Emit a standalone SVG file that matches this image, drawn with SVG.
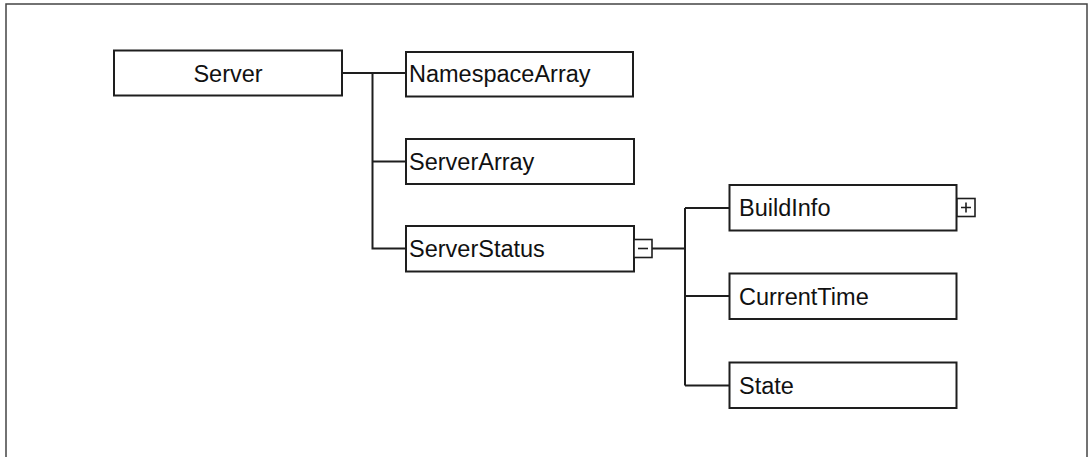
<svg xmlns="http://www.w3.org/2000/svg" width="1088" height="457" viewBox="0 0 1088 457">
  <style>
    .box { fill: #ffffff; stroke: #1e1e1e; stroke-width: 2; }
    .tog { fill: #ffffff; stroke: #1e1e1e; stroke-width: 1.6; }
    .sign { stroke: #1e1e1e; stroke-width: 1.6; fill: none; }
    .lbl { font-family: "Liberation Sans", Arial, sans-serif; font-size: 23.5px; fill: #111111; }
    .conn { stroke: #1e1e1e; stroke-width: 2; fill: none; }
  </style>

  <!-- frame -->
  <rect x="6" y="4" width="1081" height="470" fill="#ffffff" stroke="#444444" stroke-width="1.5"/>

  <!-- tree connectors -->
  <g id="connectors">
    <path class="conn" d="M342,73 H406 M372.5,73 V248.5 H406 M372.5,161.5 H406"/>
    <path class="conn" d="M652,248.5 H685 M685,208 V385.5 M685,208 H729 M685,296 H729 M685,385.5 H729"/>
  </g>

  <g id="node-server">
    <rect class="box" x="114" y="50.5" width="228" height="45"/>
    <text class="lbl" x="228" y="81.5" text-anchor="middle">Server</text>
  </g>

  <g id="node-namespacearray">
    <rect class="box" x="406" y="52" width="227" height="44.5"/>
    <text class="lbl" x="409" y="82">NamespaceArray</text>
  </g>

  <g id="node-serverarray">
    <rect class="box" x="406" y="139" width="228" height="45"/>
    <text class="lbl" x="409" y="170">ServerArray</text>
  </g>

  <g id="node-serverstatus">
    <rect class="box" x="406" y="226" width="228" height="45.5"/>
    <text class="lbl" x="409" y="257">ServerStatus</text>
    <rect class="tog" x="634" y="239.5" width="18" height="18"/>
    <path class="sign" d="M638,248.5 H648"/>
  </g>

  <g id="node-buildinfo">
    <rect class="box" x="729.5" y="185" width="227" height="45.5"/>
    <text class="lbl" x="739" y="216">BuildInfo</text>
    <rect class="tog" x="957" y="198.5" width="18" height="18"/>
    <path class="sign" d="M961,207.5 H971 M966,202.5 V212.5"/>
  </g>

  <g id="node-currenttime">
    <rect class="box" x="729.5" y="273.5" width="227" height="45.5"/>
    <text class="lbl" x="739" y="304.5">CurrentTime</text>
  </g>

  <g id="node-state">
    <rect class="box" x="729.5" y="362.5" width="227" height="45.5"/>
    <text class="lbl" x="739" y="393.5">State</text>
  </g>
</svg>
